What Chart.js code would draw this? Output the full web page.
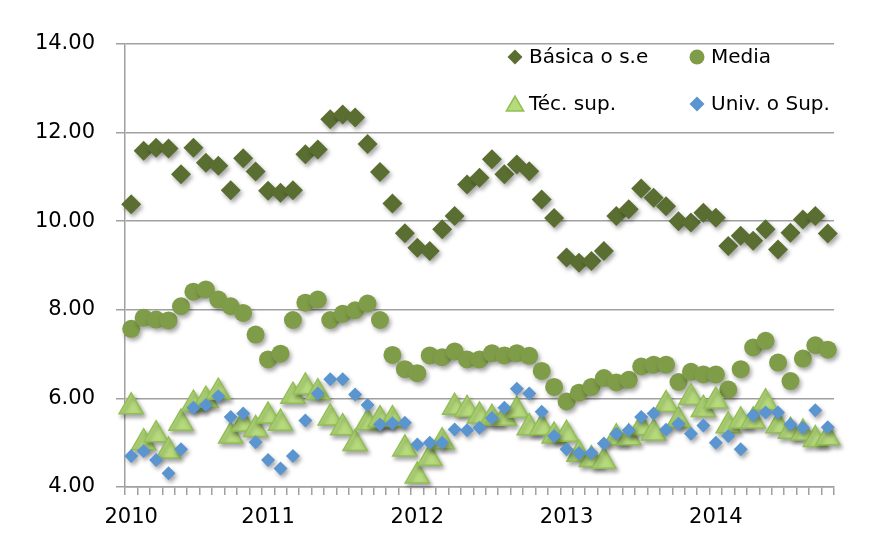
<!DOCTYPE html>
<html>
<head>
<meta charset="utf-8">
<title>Básica / Media / Téc. sup. / Univ. o Sup.</title>
<script src="https://cdn.jsdelivr.net/npm/chart.js@4.4.1/dist/chart.umd.min.js"></script>
<style>
    html, body { margin: 0; padding: 0; background: #fff; }
    #wrap { width: 874px; height: 547px; }
</style>
</head>
<body>
<div id="wrap"><canvas id="chart" width="874" height="547"></canvas></div>
<script>
// ================================
// Data (monthly, Feb 2010 - Oct 2014)
// ================================

const yearLabels = ["2010", "2011", "2012", "2013", "2014"];
const yearStartIndex = [0, 11, 23, 35, 47];

const basica = [
    10.38, 11.59, 11.66, 11.64, 11.06, 11.66, 11.32, 11.25, 10.70, 11.42, 11.12,
    10.69, 10.64, 10.70, 11.51, 11.62, 12.30, 12.41, 12.34, 11.74, 11.11, 10.40, 9.73,
    9.40, 9.33, 9.82, 10.12, 10.83, 10.98, 11.40, 11.06, 11.28, 11.13, 10.49, 10.07,
    9.18, 9.06, 9.10, 9.33, 10.12, 10.27, 10.74, 10.53, 10.34, 10.00, 9.97, 10.19,
    10.08, 9.44, 9.67, 9.56, 9.82, 9.36, 9.74, 10.04, 10.12, 9.72
];

const media = [
    7.57, 7.82, 7.78, 7.76, 8.08, 8.41, 8.46, 8.23, 8.08, 7.93, 7.44,
    6.88, 7.01, 7.77, 8.16, 8.23, 7.77, 7.91, 7.99, 8.14, 7.77, 6.98, 6.66,
    6.57, 6.97, 6.93, 7.06, 6.88, 6.88, 7.02, 6.97, 7.02, 6.96, 6.62, 6.26,
    5.93, 6.13, 6.26, 6.46, 6.36, 6.42, 6.72, 6.76, 6.76, 6.37, 6.60, 6.54,
    6.54, 6.20, 6.66, 7.15, 7.30, 6.81, 6.39, 6.90, 7.20, 7.10
];

const tecSup = [
    5.81, 5.00, 5.18, 4.81, 5.44, 5.87, 5.96, 6.14, 5.15, 5.42, 5.30,
    5.60, 5.44, 6.05, 6.26, 6.13, 5.56, 5.34, 4.98, 5.45, 5.52, 5.52, 4.86,
    4.25, 4.65, 5.02, 5.80, 5.75, 5.60, 5.55, 5.55, 5.73, 5.34, 5.34, 5.15,
    5.19, 4.74, 4.62, 4.58, 5.11, 5.11, 5.34, 5.22, 5.86, 5.50, 6.02, 5.75,
    5.94, 5.38, 5.49, 5.49, 5.90, 5.38, 5.26, 5.22, 5.07, 5.11
];

const univSup = [
    4.70, 4.81, 4.61, 4.31, 4.85, 5.79, 5.85, 6.05, 5.58, 5.66, 5.01,
    4.61, 4.42, 4.70, 5.50, 6.11, 6.43, 6.43, 6.09, 5.85, 5.41, 5.44, 5.45,
    4.96, 5.00, 5.00, 5.30, 5.28, 5.34, 5.56, 5.79, 6.22, 6.11, 5.70, 5.15,
    4.85, 4.76, 4.77, 4.98, 5.20, 5.28, 5.58, 5.66, 5.29, 5.43, 5.20, 5.39,
    5.00, 5.15, 4.85, 5.62, 5.68, 5.68, 5.41, 5.34, 5.73, 5.35
];

// one category per month, only the first month of each year is labelled
const labels = basica.map(() => "");
yearStartIndex.forEach((idx, i) => { labels[idx] = yearLabels[i]; });

const FONT_FAMILY = "'DejaVu Sans', sans-serif";
const AXIS_FONT = { family: FONT_FAMILY, size: 21 };
const GRID = "#a0a0a0";

// ================================
// Plugins
// ================================

// soft drop shadow under the markers
const shadowPlugin = {
    id: "markerShadow",
    beforeDatasetsDraw(chart) {
        const c = chart.ctx;
        c.save();
        c.shadowColor = "rgba(0,0,0,0.35)";
        c.shadowBlur = 4;
        c.shadowOffsetX = 2;
        c.shadowOffsetY = 3;
    },
    afterDatasetsDraw(chart) {
        chart.ctx.restore();
    }
};

// 2x2 legend inside the plot, top right
const gridLegend = {
    id: "gridLegend",
    afterDraw(chart) {
        const ctx = chart.ctx;
        const cols = [515, 697];
        const rows = [57, 104];
        ctx.save();
        ctx.font = "20px " + FONT_FAMILY;
        ctx.textBaseline = "middle";
        chart.data.datasets.forEach((ds, i) => {
            const x = cols[i % 2];
            const y = rows[Math.floor(i / 2)];
            ctx.fillStyle = ds.backgroundColor;
            ctx.strokeStyle = ds.borderColor;
            ctx.lineWidth = ds.borderWidth;
            Chart.helpers.drawPoint(ctx, {
                pointStyle: ds.pointStyle,
                radius: ds.legendRadius,
                borderWidth: ds.borderWidth,
                rotation: 0
            }, x, ds.pointStyle === "triangle" ? y + 2 : y);
            ctx.fillStyle = "#000";
            ctx.fillText(ds.label, x + 14, y + 1);
        });
        ctx.restore();
    }
};

// ================================
// Chart
// ================================

new Chart(document.getElementById("chart"), {
    type: "line",
    data: {
        labels: labels,
        datasets: [
            {
                label: "Básica o s.e",
                data: basica,
                pointStyle: "rectRot",
                pointRadius: 10,
                legendRadius: 7.5,
                backgroundColor: "#5a6e31",
                borderColor: "#5a6e31",
                borderWidth: 0,
                order: 4
            },
            {
                label: "Media",
                data: media,
                pointStyle: "circle",
                pointRadius: 9,
                legendRadius: 7.5,
                backgroundColor: "#7f9c48",
                borderColor: "#7f9c48",
                borderWidth: 0,
                order: 3
            },
            {
                label: "Téc. sup.",
                data: tecSup,
                pointStyle: "triangle",
                pointRadius: 14,
                legendRadius: 10,
                backgroundColor: "#b6da7c",
                borderColor: "#92bf55",
                borderWidth: 1.5,
                order: 2
            },
            {
                label: "Univ. o Sup.",
                data: univSup,
                pointStyle: "rectRot",
                pointRadius: 7,
                legendRadius: 7.5,
                backgroundColor: "#5b95d0",
                borderColor: "#5b95d0",
                borderWidth: 0,
                order: 1
            }
        ].map(ds => Object.assign(ds, { showLine: false, clip: false, pointHoverRadius: ds.pointRadius }))
    },
    options: {
        responsive: false,
        animation: false,
        events: [],
        devicePixelRatio: 1,
        layout: { padding: { top: 44, right: 40, left: 0, bottom: 0 } },
        plugins: {
            legend: { display: false },
            tooltip: { enabled: false }
        },
        scales: {
            x: {
                type: "category",
                offset: true,
                grid: {
                    offset: true,
                    drawOnChartArea: false,
                    drawTicks: true,
                    tickLength: 8,
                    color: GRID,
                    lineWidth: 1.5
                },
                border: { color: GRID, width: 1.5 },
                ticks: {
                    autoSkip: false,
                    maxRotation: 0,
                    minRotation: 0,
                    padding: 10,
                    color: "#000",
                    font: AXIS_FONT
                },
                afterFit(scale) { scale.height = 60; }
            },
            y: {
                min: 4,
                max: 14,
                grid: { color: GRID, lineWidth: 1.5, tickLength: 9 },
                border: { color: GRID, width: 1.5 },
                ticks: {
                    stepSize: 2,
                    padding: 21,
                    color: "#000",
                    font: AXIS_FONT,
                    callback: v => v.toFixed(2)
                },
                afterFit(scale) { scale.width = 125; }
            }
        }
    },
    plugins: [shadowPlugin, gridLegend]
});
</script>
</body>
</html>
